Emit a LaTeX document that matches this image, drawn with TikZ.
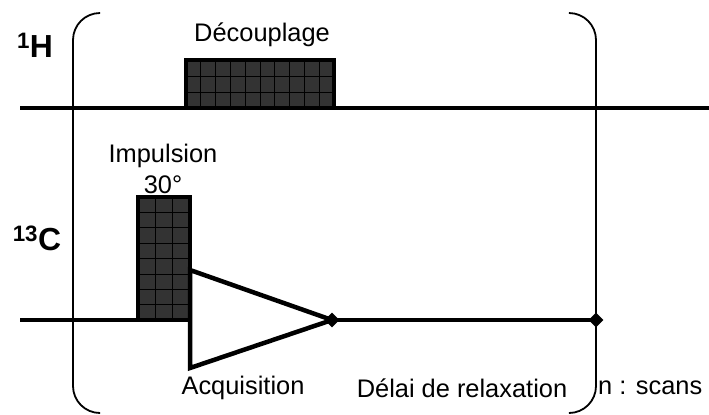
\documentclass[tikz,border=0pt]{standalone}
\usepackage{fontspec}
\setmainfont{Liberation Sans}
\usetikzlibrary{shapes.geometric}
\tikzset{chan/.style={line width=4.5bp},brace/.style={line width=1.8bp,rounded corners=27bp},pulse/.style={fill=black!80,draw=black,line width=4.5bp},gridline/.style={line width=0.7bp,black},knot/.style={diamond,fill=black,inner sep=0pt,minimum size=15bp},lbl/.style={font=\fontsize{25.5}{31}\selectfont,inner sep=0pt,align=center},nuc/.style={font=\fontsize{32}{36}\selectfont\bfseries,inner sep=0pt}}

\begin{document}
\begin{tikzpicture}[x=1bp,y=-1bp]
\useasboundingbox (0,0) rectangle (709,414);
% brackets of the repeated block
\draw[brace] (99,13) -- (73,13) -- (73,413) -- (99,413);
\draw[brace] (570,13) -- (596,13) -- (596,413) -- (570,413);
% 1H channel
\draw[chan] (20,108) -- (709,108);
\fill[black!80] (186,60) rectangle (334,108);
\foreach \i in {1,...,9} \draw[gridline] ({186+\i*14.8},60) -- ++(0,48);
\foreach \j in {1,2} \draw[gridline] (186,{60+\j*16}) -- ++(148,0);
\draw[pulse,fill=none] (186,60) rectangle (334,108);
% 13C channel
\coordinate (acq) at (332,320);
\coordinate (end) at (596,320);
\draw[chan] (20,320) -- (138,320);
\fill[black!80] (138,197) rectangle (190,320);
\foreach \i in {1,2} \draw[gridline] ({138+\i*17.3},197) -- ++(0,123);
\foreach \j in {1,...,7} \draw[gridline] (138,{197+\j*15.4}) -- ++(52,0);
\draw[pulse,fill=none] (138,197) rectangle (190,320);
\draw[chan,line join=miter] (190,270) -- (acq) -- (190,368) -- cycle;
\draw[chan] (acq) -- (end);
\node[knot] (k1) at (acq) {};
\node[knot] (k2) at (end) {};
% labels
\node[nuc] (h) at (35,45) {\textsuperscript{1}H};
\node[nuc] (c) at (37,238) {\textsuperscript{13}C};
\node[lbl] (dec) at (262,35) {Découplage};
\node[lbl] (imp) at (163,169) {Impulsion\\30°};
\node[lbl] (acqt) at (243,388) {Acquisition};
\node[lbl] (rel) at (462,388) {Délai de relaxation};
\node[lbl,anchor=west] (ns) at (598,388) {n : scans};
\end{tikzpicture}
\end{document}
